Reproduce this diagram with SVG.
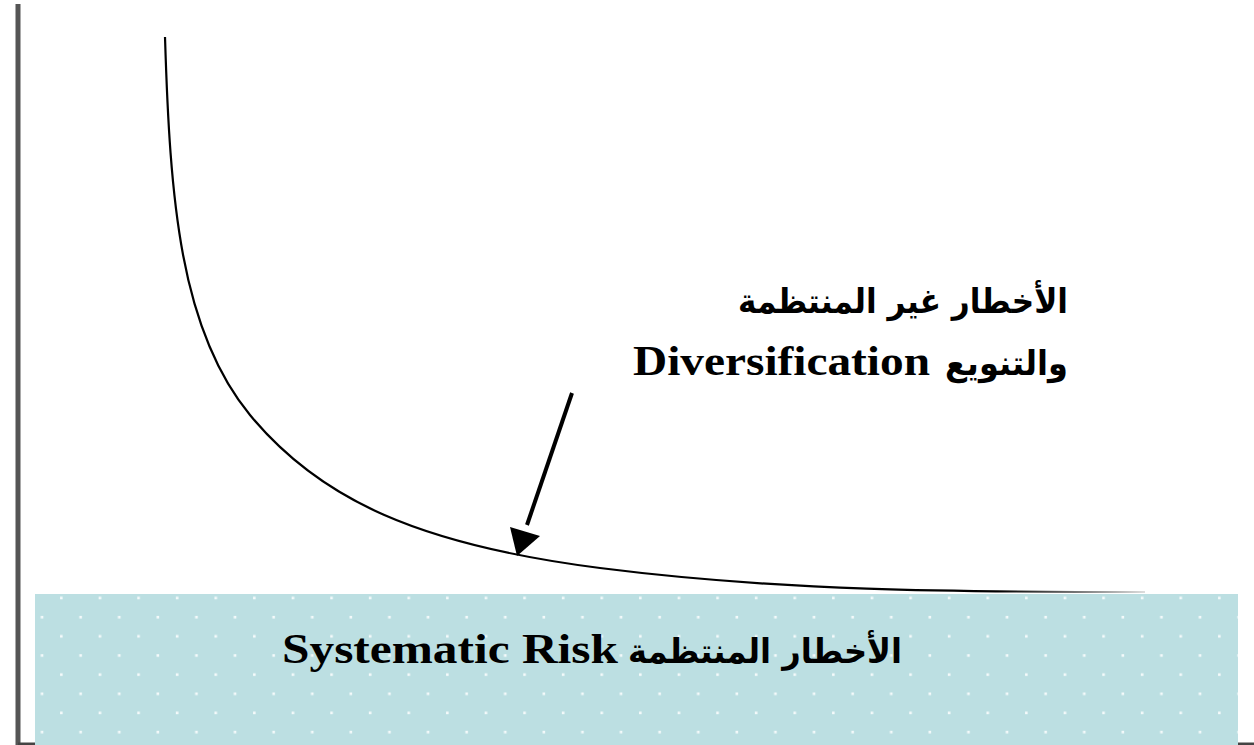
<svg xmlns="http://www.w3.org/2000/svg" width="1254" height="745" viewBox="0 0 1254 745">
<style>
.lat{font-family:"Liberation Serif","Times New Roman",serif;font-weight:bold;font-size:42px;fill:#000}
.ar{font-family:"DejaVu Sans","Noto Sans",sans-serif;font-weight:bold;font-size:34px;fill:#000}
.axis{stroke:#555;fill:none}
</style>
<defs>
<pattern id="dots" patternUnits="userSpaceOnUse" x="32.35" y="588.4" width="38.6" height="38.3">
<rect x="8.4" y="27.5" width="2.6" height="2.6" fill="#fff" fill-opacity="0.85"/>
<rect x="27.7" y="8.3" width="2.6" height="2.6" fill="#fff" fill-opacity="0.85"/>
</pattern>
<linearGradient id="fade" gradientUnits="userSpaceOnUse" x1="165" y1="0" x2="1145" y2="0">
<stop offset="0" stop-color="#000"/>
<stop offset="0.85" stop-color="#000"/>
<stop offset="1" stop-color="#ddd"/>
</linearGradient>
</defs>
<rect width="1254" height="745" fill="#fff"/>
<g id="systematic-band">
<rect x="35" y="594" width="1203" height="151" fill="#bcdfe2"/>
<rect x="35" y="594" width="1203" height="151" fill="url(#dots)"/>
<text class="lat" x="282" y="663" textLength="336" lengthAdjust="spacingAndGlyphs">Systematic Risk</text>
<text class="ar" x="765" y="663" text-anchor="middle" textLength="274" lengthAdjust="spacingAndGlyphs" direction="rtl">الأخطار المنتظمة</text>
</g>
<g id="axes">
<line class="axis" x1="18" y1="4" x2="18" y2="745" stroke-width="5"/>
<line x1="18" y1="744" x2="35" y2="744" stroke="#444" stroke-width="3"/>
<line x1="1238" y1="744" x2="1254" y2="744" stroke="#444" stroke-width="3"/>
</g>
<g id="risk-curve">
<path d="M165,37 C170,200 180,330 250,415 C320,500 420,545 600,568 C780,591 950,592 1145,592" fill="none" stroke="url(#fade)" stroke-width="2.2"/>
</g>
<g id="unsystematic-label">
<text class="ar" x="903" y="313" text-anchor="middle" textLength="330" lengthAdjust="spacingAndGlyphs" direction="rtl">الأخطار غير المنتظمة</text>
<text class="ar" x="1006.5" y="375" text-anchor="middle" textLength="123" lengthAdjust="spacingAndGlyphs" direction="rtl">والتنويع</text>
<text class="lat" x="633" y="375" textLength="297" lengthAdjust="spacingAndGlyphs">Diversification</text>
</g>
<g id="connectors">
<line x1="572" y1="393" x2="527" y2="525" stroke="#000" stroke-width="4"/>
<polygon points="517,556 510,527 540,536" fill="#000"/>
</g>
</svg>
